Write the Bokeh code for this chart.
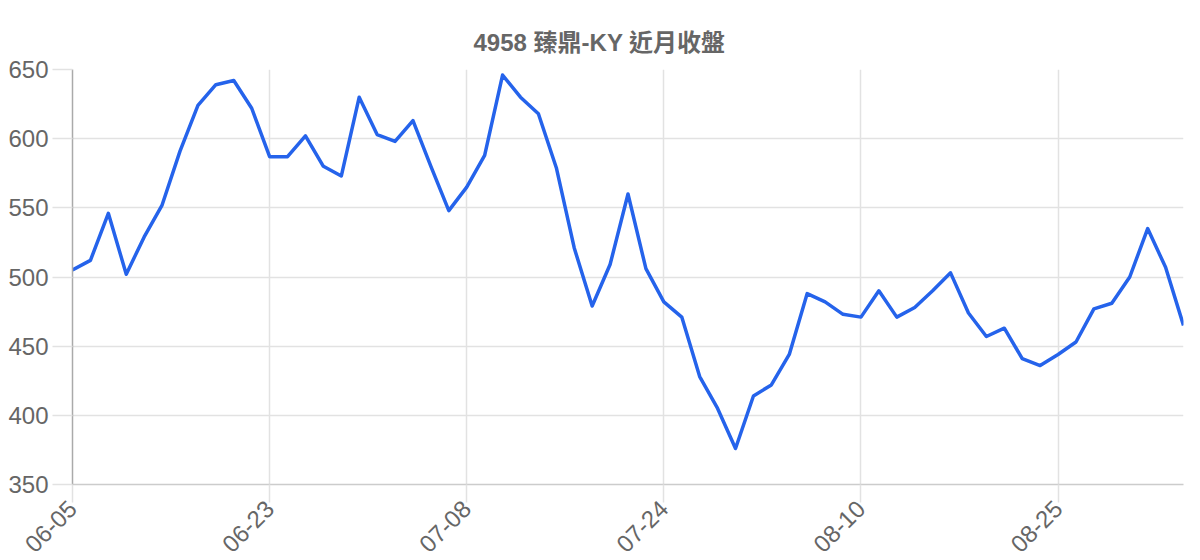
from bokeh.plotting import figure
from bokeh.models import Range1d, FixedTicker
from bokeh.embed import file_html
from bokeh.resources import INLINE
import math

title_text = "4958 臻鼎-KY 近月收盤"

dates = [
    "06-05", "06-06", "06-09", "06-10", "06-11", "06-12", "06-13", "06-16", "06-17", "06-18",
    "06-19", "06-23", "06-24", "06-25", "06-26", "06-27", "06-30", "07-01", "07-02", "07-03",
    "07-04", "07-07", "07-08", "07-09", "07-10", "07-11", "07-14", "07-15", "07-16", "07-17",
    "07-18", "07-21", "07-22", "07-24", "07-25", "07-28", "07-29", "07-30", "07-31", "08-01",
    "08-04", "08-05", "08-06", "08-07", "08-10", "08-11", "08-12", "08-13", "08-14", "08-15",
    "08-18", "08-19", "08-20", "08-21", "08-22", "08-25", "08-26", "08-27", "08-28", "08-29",
    "09-01", "09-02", "09-03",
]

close = [
    505, 512, 546, 502, 529, 552, 591, 624, 639, 642,
    622, 587, 587, 602, 580, 573, 630, 603, 598, 613,
    580, 548, 565, 588, 646, 630, 618, 579, 521, 479,
    509, 560, 506, 482, 471, 428, 405, 376, 414, 422,
    444, 488, 482, 473, 471, 490, 471, 478, 490, 503,
    474, 457, 463, 441, 436, 444, 453, 477, 481, 500,
    535, 507, 465,
]

y_ticks = [350, 400, 450, 500, 550, 600, 650]
x_label_every = 11

FONT = "'Liberation Sans', 'Noto Sans CJK TC'"
TXT = "#666666"
GRID = "#e2e2e2"

xs = list(range(len(close)))
x_ticks = xs[::x_label_every]

p = figure(
    width=1192, height=552,
    output_backend="svg", toolbar_location=None,
    x_range=Range1d(0, len(close) - 1),
    y_range=Range1d(min(y_ticks), max(y_ticks)),
    min_border_left=72, min_border_right=9, min_border_top=69, min_border_bottom=68,
    frame_width=1111, frame_height=415,
)
p.outline_line_color = None
p.background_fill_color = "white"

p.title.text = title_text
p.title.align = "left"
p.title.offset = 401
p.title.standoff = 28
p.title.text_font = FONT
p.title.text_font_size = "24px"
p.title.text_font_style = "bold"
p.title.text_color = TXT

p.line(xs, close, line_color="#2563eb", line_width=3.5, line_join="round")

# x axis
p.xaxis.ticker = FixedTicker(ticks=x_ticks)
p.xaxis.major_label_overrides = {i: dates[i] for i in x_ticks}
p.xaxis.major_label_orientation = math.pi / 4
p.xaxis.major_label_text_font = FONT
p.xaxis.major_label_text_font_size = "24px"
p.xaxis.major_label_text_color = TXT
p.xaxis.major_label_standoff = 2
p.xaxis.major_tick_in = 0
p.xaxis.major_tick_out = 18
p.xaxis.major_tick_line_color = GRID
p.xaxis.major_tick_line_width = 1.5
p.xaxis.minor_tick_line_color = None
p.xaxis.axis_line_color = "#cccccc"
p.xaxis.axis_line_width = 1.5

# y axis
p.yaxis.ticker = FixedTicker(ticks=y_ticks)
p.yaxis.major_label_text_font = FONT
p.yaxis.major_label_text_font_size = "24px"
p.yaxis.major_label_text_color = TXT
p.yaxis.major_label_standoff = 4
p.yaxis.major_tick_in = 0
p.yaxis.major_tick_out = 20
p.yaxis.major_tick_line_color = GRID
p.yaxis.major_tick_line_width = 1.5
p.yaxis.minor_tick_line_color = None
p.yaxis.axis_line_color = "#aaaaaa"
p.yaxis.axis_line_width = 1.5

p.xgrid.grid_line_color = GRID
p.ygrid.grid_line_color = GRID
p.xgrid.grid_line_width = 1.5
p.ygrid.grid_line_width = 1.5

open("out.html", "w").write(file_html(p, INLINE))
